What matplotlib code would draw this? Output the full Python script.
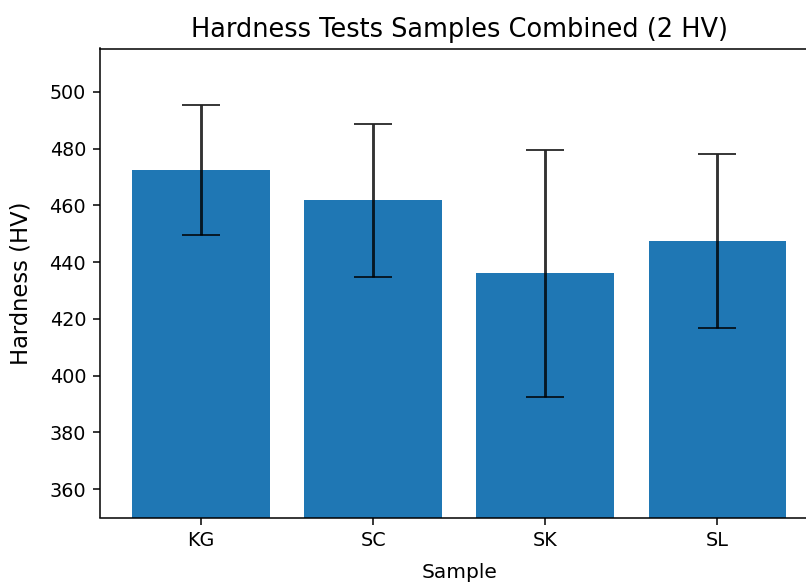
import matplotlib
matplotlib.use("Agg")
import matplotlib.pyplot as plt

samples = ["KG", "SC", "SK", "SL"]
hardness = [472.4, 461.8, 436.1, 447.4]
hardness_err = [23.0, 26.9, 43.6, 30.6]

dpi = 138
fig = plt.figure(figsize=(806 / dpi, 582 / dpi), dpi=dpi)
# axes runs past the right edge, like the cropped original
ax = fig.add_axes([99.5 / 806, (582 - 517.5) / 582, (819 - 99.5) / 806, (517.5 - 48.5) / 582])

ax.bar(samples, hardness, yerr=hardness_err, color="#1f77b4",
       ecolor="black", capsize=10, error_kw={"alpha": 0.8})
ax.set_ylim(350, 515.3)
ax.set_yticks(range(360, 501, 20))
ax.set_xlabel("Sample", fontsize=10.5, labelpad=7)
ax.set_ylabel("Hardness (HV)", fontsize=11.8, labelpad=9)
ax.set_title("Hardness Tests Samples Combined (2 HV)", fontsize=13.4)

fig.savefig("out.png", dpi=dpi)
